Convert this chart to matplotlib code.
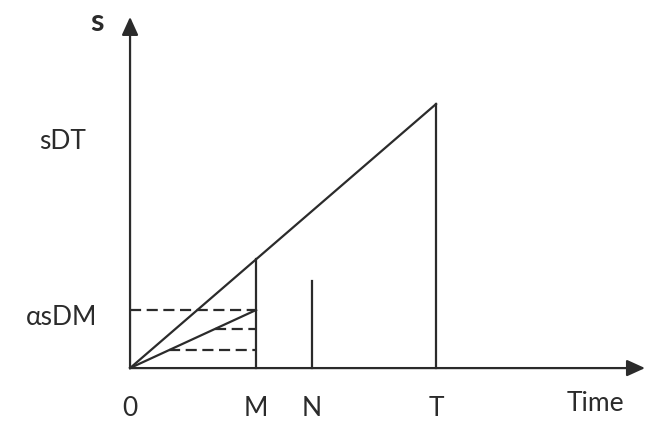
import matplotlib
matplotlib.use("Agg")
import matplotlib.pyplot as plt

plt.rcParams['font.family'] = ['Lato', 'DejaVu Sans']

# 时间轴上的点
t_labels = ["0", "M", "N", "T"]
t_vals = [0, 4.12, 5.95, 10.0]
s_rate = 1.0            # sDT 线的斜率
n_height = 3.3          # N 处竖线高度
alpha_level = 2.2       # αsDM
dash_levels = [2.2, 1.48, 0.68]

T = t_vals[3]
M = t_vals[1]
N = t_vals[2]

fig = plt.figure(figsize=(6.49, 4.23), dpi=100)
ax = fig.add_axes([0, 0, 1, 1])
ax.set_xlim(-4.25, 16.96)
ax.set_ylim(-2.08, 13.94)
ax.set_axis_off()

c = "#2b2b2b"
lw = 1.6

# 坐标轴带箭头
arr = dict(arrowstyle="-|>,head_length=1.1,head_width=0.5",
           color=c, lw=lw, shrinkA=0, shrinkB=0)
ax.annotate("", xy=(16.83, 0), xytext=(0, 0), arrowprops=arr)
ax.annotate("", xy=(0, 13.3), xytext=(0, 0), arrowprops=arr)

# 主线 0 -> T
ax.plot([0, T], [0, s_rate * T], color=c, lw=lw)
ax.plot([T, T], [0, s_rate * T], color=c, lw=lw)
# M 处竖线
ax.plot([M, M], [0, s_rate * M], color=c, lw=lw)
# N 处竖线
ax.plot([N, N], [0, n_height], color=c, lw=lw)
# 下方的线 0 -> (M, αsDM)
ax.plot([0, M], [0, alpha_level], color=c, lw=lw)

# 虚线
slope2 = alpha_level / M
for i, lv in enumerate(dash_levels):
    x0 = 0 if i == 0 else lv / slope2
    ax.plot([x0, M], [lv, lv], color=c, lw=lw, linestyle=(0, (5, 2.5)))

# 文字
fs = 19
for lab, tv in zip(t_labels, t_vals):
    ax.text(tv, -1.52, lab, fontsize=fs, color=c, ha="center", va="center")
ax.text(15.2, -1.36, "Time", fontsize=fs, color=c, ha="center", va="center")
ax.text(-2.2, 8.6, "sDT", fontsize=fs, color=c, ha="center", va="center")
ax.text(-2.25, 1.9, "αsDM", fontsize=fs, color=c, ha="center", va="center")
ax.text(-1.08, 13.1, "s", fontsize=22, fontweight="bold", color=c,
        ha="center", va="center")

plt.savefig("out.png", dpi=100)
